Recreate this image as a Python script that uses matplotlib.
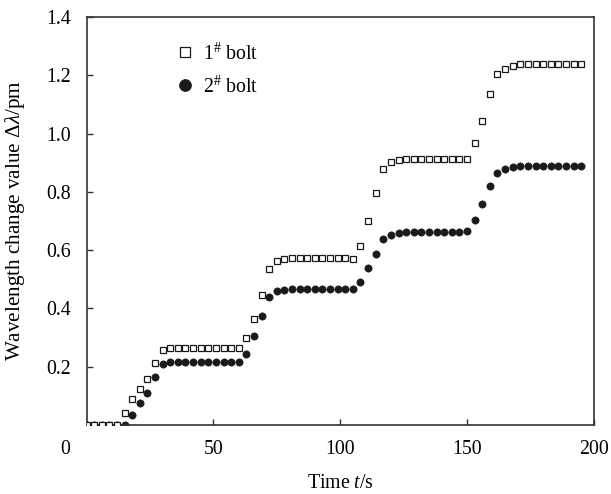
import matplotlib
matplotlib.use("Agg")
import matplotlib.pyplot as plt
from matplotlib.transforms import ScaledTranslation

# ---- data ----
time_s = [0, 3, 6, 9, 12, 15, 18, 21, 24, 27, 30, 33, 36, 39, 42, 45, 48, 51, 54, 57,
          60, 63, 66, 69, 72, 75, 78, 81, 84, 87, 90, 93, 96, 99, 102, 105, 108, 111,
          114, 117, 120, 123, 126, 129, 132, 135, 138, 141, 144, 147, 150, 153, 156,
          159, 162, 165, 168, 171, 174, 177, 180, 183, 186, 189, 192, 195]

bolt1 = [0.0, 0.0, 0.0, 0.0, 0.0, 0.040, 0.089, 0.122, 0.157, 0.212, 0.257,
         0.265, 0.265, 0.265, 0.265, 0.265, 0.265, 0.265, 0.265, 0.265, 0.265,
         0.299, 0.365, 0.445, 0.535, 0.563, 0.570,
         0.572, 0.572, 0.572, 0.572, 0.572, 0.572, 0.572, 0.572, 0.571,
         0.614, 0.701, 0.795, 0.880, 0.902, 0.910,
         0.912, 0.912, 0.912, 0.912, 0.912, 0.912, 0.912, 0.912, 0.912,
         0.969, 1.044, 1.135, 1.205, 1.222, 1.232,
         1.237, 1.237, 1.237, 1.237, 1.237, 1.237, 1.237, 1.237, 1.237]

bolt2 = [0.0, 0.0, 0.0, 0.0, 0.0, 0.0, 0.034, 0.077, 0.109, 0.164, 0.208, 0.215,
         0.217, 0.217, 0.217, 0.217, 0.217, 0.217, 0.217, 0.217, 0.217,
         0.243, 0.305, 0.374, 0.439, 0.460, 0.464,
         0.466, 0.466, 0.466, 0.466, 0.466, 0.466, 0.466, 0.466, 0.468,
         0.491, 0.537, 0.586, 0.637, 0.653, 0.660,
         0.663, 0.663, 0.663, 0.663, 0.663, 0.663, 0.663, 0.663, 0.664,
         0.703, 0.757, 0.820, 0.864, 0.880, 0.885,
         0.889, 0.889, 0.889, 0.889, 0.889, 0.889, 0.889, 0.889, 0.889]

series_labels = ["1$^{\\#}$ bolt", "2$^{\\#}$ bolt"]
x_ticks = [50, 100, 150, 200]
y_ticks = [0.2, 0.4, 0.6, 0.8, 1.0, 1.2, 1.4]

# ---- style ----
plt.rcParams["font.family"] = ["Liberation Serif", "DejaVu Serif"]
plt.rcParams["mathtext.fontset"] = "custom"
plt.rcParams["mathtext.rm"] = "Liberation Serif"
plt.rcParams["mathtext.it"] = "Liberation Serif:italic"
plt.rcParams["mathtext.bf"] = "Liberation Serif:bold"

fs = 14.3
spine_c = "#333333"

fig = plt.figure(figsize=(6.11, 4.94), dpi=100)
ax = fig.add_axes([0.1416, 0.1397, 0.8304, 0.8259])

ax.plot(time_s, bolt1, linestyle="none", marker="s", markersize=4.0,
        markerfacecolor="white", markeredgecolor="#1a1a1a", markeredgewidth=0.9,
        label=series_labels[0], zorder=3)
ax.plot(time_s, bolt2, linestyle="none", marker="o", markersize=5.2,
        markerfacecolor="#1a1a1a", markeredgecolor="#1a1a1a", markeredgewidth=0.5,
        label=series_labels[1], zorder=2)

ax.set_xlim(0, 200)
ax.set_ylim(0, 1.4)
ax.set_xticks(x_ticks)
ax.set_xticklabels([str(v) for v in x_ticks])
ax.set_yticks(y_ticks)
ax.set_yticklabels([f"{v:.1f}" for v in y_ticks])

ax.tick_params(direction="in", length=4, width=1.0, color=spine_c,
               labelsize=fs, pad=11, top=False, right=False)
for s in ax.spines.values():
    s.set_color(spine_c)
    s.set_linewidth(1.2)

# origin label "0" placed at the corner, as in the reference
ax.text(-0.042, 0.0, "0", fontsize=fs, ha="center", va="top",
        transform=ax.transAxes + ScaledTranslation(0, -11 / 72, fig.dpi_scale_trans))

ax.set_xlabel("Time $\\mathit{t}$/s", fontsize=fs)
ax.set_ylabel("Wavelength change value $\\Delta\\mathit{\\lambda}$/pm", fontsize=15.2)
ax.xaxis.set_label_coords(0.5, -0.12)
ax.yaxis.set_label_coords(-0.117, 0.5)

leg = ax.legend(loc="upper left", bbox_to_anchor=(0.175, 0.936), frameon=False,
                fontsize=fs, handlelength=1.0, handletextpad=0.4,
                borderpad=0, borderaxespad=0, labelspacing=0.6)
leg.legend_handles[0].set_markersize(6.6)
leg.legend_handles[1].set_markersize(8.6)

fig.savefig("out.png", dpi=100)
